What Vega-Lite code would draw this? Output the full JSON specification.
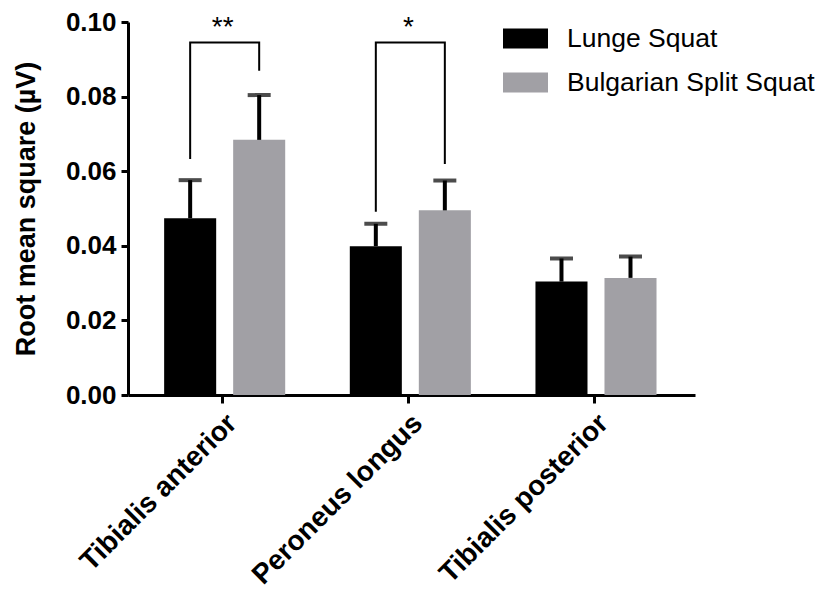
{
  "$schema": "https://vega.github.io/schema/vega-lite/v6.json",
  "width": 567,
  "height": 373,
  "autosize": {"type": "none"},
  "padding": {"left": 128, "top": 22, "right": 132, "bottom": 201},
  "background": "white",
  "config": {"view": {"stroke": null}, "font": "Liberation Sans"},
  "datasets": {
    "bars": [
      {"muscle": "Tibialis anterior", "group": "Lunge Squat", "mean": 0.0474, "top": 0.0576},
      {"muscle": "Tibialis anterior", "group": "Bulgarian Split Squat", "mean": 0.0684, "top": 0.0804},
      {"muscle": "Peroneus longus", "group": "Lunge Squat", "mean": 0.0399, "top": 0.0459},
      {"muscle": "Peroneus longus", "group": "Bulgarian Split Squat", "mean": 0.0495, "top": 0.0575},
      {"muscle": "Tibialis posterior", "group": "Lunge Squat", "mean": 0.0304, "top": 0.0366},
      {"muscle": "Tibialis posterior", "group": "Bulgarian Split Squat", "mean": 0.0314, "top": 0.0371}
    ],
    "brackets": [
      {"b": "TA", "muscle": "Tibialis anterior", "group": "Lunge Squat", "y": 0.0633, "o": 1},
      {"b": "TA", "muscle": "Tibialis anterior", "group": "Lunge Squat", "y": 0.0945, "o": 2},
      {"b": "TA", "muscle": "Tibialis anterior", "group": "Bulgarian Split Squat", "y": 0.0945, "o": 3},
      {"b": "TA", "muscle": "Tibialis anterior", "group": "Bulgarian Split Squat", "y": 0.0869, "o": 4},
      {"b": "PL", "muscle": "Peroneus longus", "group": "Lunge Squat", "y": 0.0491, "o": 1},
      {"b": "PL", "muscle": "Peroneus longus", "group": "Lunge Squat", "y": 0.0945, "o": 2},
      {"b": "PL", "muscle": "Peroneus longus", "group": "Bulgarian Split Squat", "y": 0.0945, "o": 3},
      {"b": "PL", "muscle": "Peroneus longus", "group": "Bulgarian Split Squat", "y": 0.0619, "o": 4}
    ],
    "stars": [
      {"muscle": "Tibialis anterior", "label": "**", "y": 0.0963},
      {"muscle": "Peroneus longus", "label": "*", "y": 0.0963}
    ]
  },
  "encoding": {
    "x": {
      "field": "muscle",
      "type": "nominal",
      "sort": ["Tibialis anterior", "Peroneus longus", "Tibialis posterior"],
      "scale": {"paddingInner": 0, "paddingOuter": 0.027, "align": 0.19},
      "axis": {
        "title": null,
        "labelAngle": -45,
        "labelFont": "Liberation Sans",
        "labelFontWeight": "bold",
        "labelFontSize": 28,
        "labelLimit": 400,
        "labelColor": "black",
        "labelPadding": 6,
        "domainColor": "black",
        "domainWidth": 3,
        "tickColor": "black",
        "tickWidth": 3,
        "tickSize": 8
      }
    }
  },
  "layer": [
    {
      "data": {"name": "bars"},
      "mark": {"type": "bar"},
      "encoding": {
        "xOffset": {
          "field": "group",
          "sort": ["Lunge Squat", "Bulgarian Split Squat"],
          "scale": {"paddingInner": 0.246, "paddingOuter": 0.468, "align": 0.53}
        },
        "y": {
          "field": "mean",
          "type": "quantitative",
          "scale": {"domain": [0, 0.1], "nice": false},
          "axis": {
            "title": "Root  mean square (µV)",
            "titleFont": "Liberation Sans",
            "titleFontSize": 27,
            "titleFontWeight": "bold",
            "titleColor": "black",
            "titlePadding": 25,
            "values": [0, 0.02, 0.04, 0.06, 0.08, 0.1],
            "format": ".2f",
            "labelFont": "Liberation Sans",
            "labelFontWeight": "bold",
            "labelFontSize": 26,
            "labelColor": "black",
            "labelPadding": 5,
            "domainColor": "black",
            "domainWidth": 3,
            "tickColor": "black",
            "tickWidth": 3,
            "tickSize": 7,
            "grid": false
          }
        },
        "color": {
          "field": "group",
          "type": "nominal",
          "sort": ["Lunge Squat", "Bulgarian Split Squat"],
          "scale": {"domain": ["Lunge Squat", "Bulgarian Split Squat"], "range": ["#000000", "#a1a0a5"]},
          "legend": {
            "title": null,
            "orient": "none",
            "legendX": 375,
            "legendY": -6,
            "padding": 0,
            "symbolType": "M-1,-0.444H1V0.444H-1Z",
            "symbolSize": 2025,
            "symbolStrokeWidth": 0,
            "symbolOpacity": 1,
            "labelFont": "Liberation Sans",
            "labelFontSize": 26.5,
            "labelColor": "black",
            "labelOffset": 19,
            "labelLimit": 400,
            "rowPadding": 8
          }
        }
      }
    },
    {
      "data": {"name": "bars"},
      "mark": {"type": "rule", "color": "black", "strokeWidth": 4},
      "encoding": {
        "xOffset": {"field": "group", "sort": ["Lunge Squat", "Bulgarian Split Squat"]},
        "y": {"field": "mean", "type": "quantitative"},
        "y2": {"field": "top"}
      }
    },
    {
      "data": {"name": "bars"},
      "mark": {"type": "tick", "color": "black", "thickness": 4, "size": 23, "orient": "horizontal"},
      "encoding": {
        "xOffset": {"field": "group", "sort": ["Lunge Squat", "Bulgarian Split Squat"]},
        "y": {"field": "top", "type": "quantitative"}
      }
    },
    {
      "data": {"name": "brackets"},
      "mark": {"type": "line", "color": "black", "strokeWidth": 2},
      "encoding": {
        "xOffset": {"field": "group", "sort": ["Lunge Squat", "Bulgarian Split Squat"]},
        "y": {"field": "y", "type": "quantitative"},
        "detail": {"field": "b"},
        "order": {"field": "o", "type": "quantitative"}
      }
    },
    {
      "data": {"name": "stars"},
      "mark": {"type": "text", "font": "Liberation Sans", "fontSize": 28, "color": "black", "baseline": "alphabetic", "align": "center"},
      "encoding": {
        "y": {"field": "y", "type": "quantitative"},
        "text": {"field": "label"}
      }
    }
  ]
}
